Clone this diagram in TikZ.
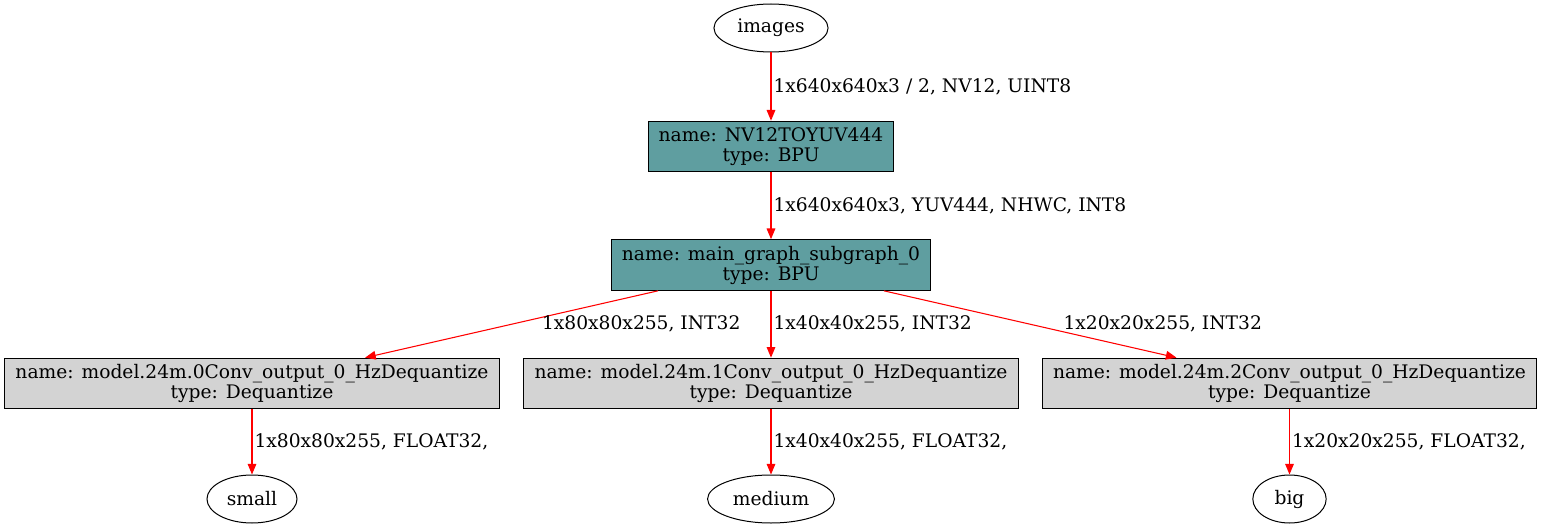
\documentclass[tikz,border=0pt]{standalone}
\usepackage{fontspec}
\setmainfont{DejaVu Serif}
\usepackage{xcolor}
\usetikzlibrary{shapes.geometric, arrows.meta, positioning}

\definecolor{cadet}{HTML}{5F9EA0}
\definecolor{lgray}{HTML}{D3D3D3}

\begin{document}
\begin{tikzpicture}[
    x=0.75pt, y=-0.75pt,
    >={Triangle[length=8pt, width=6.5pt]},
    every node/.style={font=\fontsize{14}{15}\selectfont},
    io/.style={ellipse, draw, line width=0.75pt, minimum height=36pt, minimum width=55pt, inner xsep=5pt, inner ysep=0pt},
    bpu/.style={rectangle, draw, line width=0.75pt, fill=cadet, align=center, minimum height=38pt, inner xsep=7.5pt},
    deq/.style={rectangle, draw, line width=0.75pt, fill=lgray, align=center, minimum height=38pt, inner xsep=8pt},
    flow/.style={->, red, line width=0.8pt},
    lbl/.style={anchor=west, inner sep=0pt, text=black}
]
\useasboundingbox (0,0) rectangle (1543,531);

% Input
\node[io] (images) at (771,28) {images};

% BPU nodes
\node[bpu] (nv12) at (771,146.5) {name: NV12TOYUV444\\type: BPU};
\node[bpu] (main) at (771,265) {name: main\_graph\_subgraph\_0\\type: BPU};

% Dequantize nodes
\node[deq] (deq0) at (252,383.5) {name: model.24m.0Conv\_output\_0\_HzDequantize\\type: Dequantize};
\node[deq] (deq1) at (771,383.5) {name: model.24m.1Conv\_output\_0\_HzDequantize\\type: Dequantize};
\node[deq] (deq2) at (1289.5,383.5) {name: model.24m.2Conv\_output\_0\_HzDequantize\\type: Dequantize};

% Outputs
\node[io] (small) at (252,499) {small};
\node[io] (medium) at (771,499) {medium};
\node[io] (big) at (1289.5,499) {big};

% Connections
\draw[flow] (images) -- (nv12) node[lbl, pos=0.5, xshift=1.5pt] {1x640x640x3 / 2, NV12, UINT8};
\draw[flow] (nv12) -- (main) node[lbl, pos=0.5, xshift=1.5pt] {1x640x640x3, YUV444, NHWC, INT8};
\draw[flow] (main) -- (deq0) node[lbl, pos=0.5, xshift=22.5pt] {1x80x80x255, INT32};
\draw[flow] (main) -- (deq1) node[lbl, pos=0.5, xshift=1.5pt] {1x40x40x255, INT32};
\draw[flow] (main) -- (deq2) node[lbl, pos=0.5, xshift=24.6pt] {1x20x20x255, INT32};
\draw[flow] (deq0) -- (small) node[lbl, pos=0.5, xshift=1.5pt] {1x80x80x255, FLOAT32,};
\draw[flow] (deq1) -- (medium) node[lbl, pos=0.5, xshift=1.5pt] {1x40x40x255, FLOAT32,};
\draw[flow] (deq2) -- (big) node[lbl, pos=0.5, xshift=1.5pt] {1x20x20x255, FLOAT32,};

\end{tikzpicture}
\end{document}
